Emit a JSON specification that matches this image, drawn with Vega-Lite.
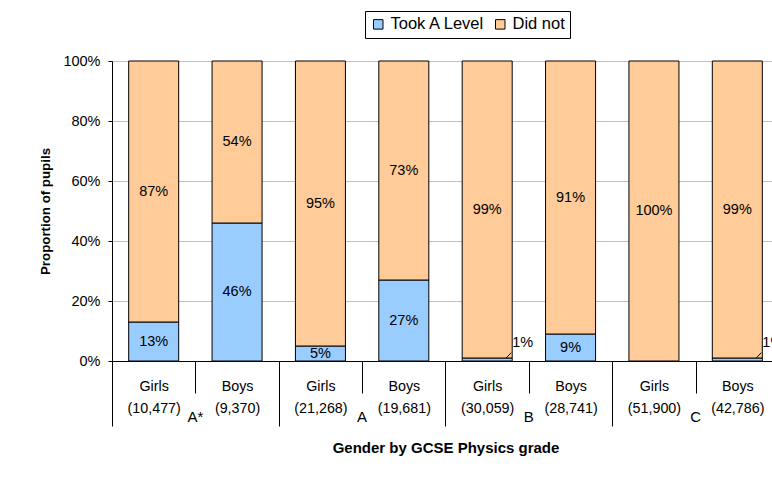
{
  "$schema": "https://vega.github.io/schema/vega-lite/v6.json",
  "width": 667,
  "height": 300,
  "autosize": {"type": "none"},
  "padding": {"left": 112, "top": 61, "right": 0, "bottom": 116},
  "background": "white",
  "data": {
    "values": [
      {"bar": "A*|Girls|(10,477)", "status": "Took A Level", "ord": 0, "value": 0.13},
      {"bar": "A*|Girls|(10,477)", "status": "Did not", "ord": 1, "value": 0.87},
      {"bar": "A*|Boys|(9,370)", "status": "Took A Level", "ord": 0, "value": 0.46},
      {"bar": "A*|Boys|(9,370)", "status": "Did not", "ord": 1, "value": 0.54},
      {"bar": "A|Girls|(21,268)", "status": "Took A Level", "ord": 0, "value": 0.05},
      {"bar": "A|Girls|(21,268)", "status": "Did not", "ord": 1, "value": 0.95},
      {"bar": "A|Boys|(19,681)", "status": "Took A Level", "ord": 0, "value": 0.27},
      {"bar": "A|Boys|(19,681)", "status": "Did not", "ord": 1, "value": 0.73},
      {"bar": "B|Girls|(30,059)", "status": "Took A Level", "ord": 0, "value": 0.01},
      {"bar": "B|Girls|(30,059)", "status": "Did not", "ord": 1, "value": 0.99},
      {"bar": "B|Boys|(28,741)", "status": "Took A Level", "ord": 0, "value": 0.09},
      {"bar": "B|Boys|(28,741)", "status": "Did not", "ord": 1, "value": 0.91},
      {"bar": "C|Girls|(51,900)", "status": "Took A Level", "ord": 0, "value": 0.0},
      {"bar": "C|Girls|(51,900)", "status": "Did not", "ord": 1, "value": 1.0},
      {"bar": "C|Boys|(42,786)", "status": "Took A Level", "ord": 0, "value": 0.01},
      {"bar": "C|Boys|(42,786)", "status": "Did not", "ord": 1, "value": 0.99}
    ]
  },
  "layer": [
    {
      "mark": {"type": "bar", "stroke": "#000000", "strokeWidth": 1},
      "encoding": {
        "x": {
          "field": "bar", "type": "nominal", "sort": null,
          "scale": {"paddingInner": 0.4, "paddingOuter": 0.2},
          "axis": {
            "title": null, "orient": "bottom", "tickSize": 32, "tickOffset": -41.7, "labelOffset": 41.7,
            "labelExpr": "slice(split(datum.value, '|'), 1)",
            "labelPadding": -14, "labelLineHeight": 22, "labelAngle": 0,
            "domain": true, "labelFontSize": 14.3
          }
        },
        "y": {
          "field": "value", "type": "quantitative", "stack": "zero",
          "scale": {"domain": [0, 1]},
          "title": "Proportion of pupils",
          "axis": {"format": ".0%", "values": [0, 0.2, 0.4, 0.6, 0.8, 1], "domain": true, "ticks": true}
        },
        "color": {
          "field": "status", "type": "nominal",
          "scale": {"domain": ["Took A Level", "Did not"], "range": ["#99CCFF", "#FFCC99"]},
          "legend": {"title": null}
        },
        "order": {"field": "ord", "type": "quantitative"}
      }
    },
    {
      "transform": [
        {"stack": "value", "groupby": ["bar"], "sort": [{"field": "ord", "order": "ascending"}], "as": ["v0", "v1"]},
        {"calculate": "(datum.v0 + datum.v1) / 2", "as": "mid"},
        {"filter": "datum.value >= 0.05"}
      ],
      "mark": {"type": "text", "fontSize": 14.5, "color": "#000000", "baseline": "middle", "font": "Liberation Sans"},
      "encoding": {
        "x": {
          "field": "bar", "type": "nominal", "sort": null,
          "axis": {
            "title": null, "orient": "bottom",
            "values": ["A*|Girls|(10,477)", "A|Girls|(21,268)", "B|Girls|(30,059)", "C|Girls|(51,900)"],
            "tickOffset": -41.7, "tickSize": 65, "labels": false, "domain": false
          }
        },
        "y": {"field": "mid", "type": "quantitative", "title": "Proportion of pupils"},
        "text": {"field": "value", "type": "quantitative", "format": ".0%"}
      }
    },
    {
      "transform": [{"filter": "datum.status == 'Took A Level' && datum.value > 0 && datum.value < 0.02"}],
      "mark": {"type": "rule", "color": "#000000", "strokeWidth": 1, "xOffset": 19, "x2Offset": 24},
      "encoding": {
        "x": {"field": "bar", "type": "nominal", "sort": null, "axis": null},
        "x2": {"field": "bar"},
        "y": {"field": "value", "type": "quantitative", "title": "Proportion of pupils"},
        "y2": {"datum": 0.028}
      }
    },
    {
      "transform": [{"filter": "datum.status == 'Took A Level' && datum.value > 0 && datum.value < 0.02"}],
      "mark": {"type": "text", "fontSize": 14.5, "color": "#000000", "align": "left", "baseline": "middle", "dx": 25, "dy": -15, "font": "Liberation Sans"},
      "encoding": {
        "x": {
          "field": "bar", "type": "nominal", "sort": null,
          "axis": {
            "title": "Gender by GCSE Physics grade", "orient": "bottom",
            "values": ["A*|Boys|(9,370)", "A|Boys|(19,681)", "B|Boys|(28,741)", "C|Boys|(42,786)"],
            "ticks": false, "tickSize": 0, "domain": false, "labelOffset": -41.7,
            "labelExpr": "split(datum.value, '|')[0]",
            "labelPadding": 48, "labelFontSize": 15, "labelAngle": 0,
            "titleFontSize": 15, "titleFontWeight": "bold", "titlePadding": 16
          }
        },
        "y": {"field": "value", "type": "quantitative", "title": "Proportion of pupils"},
        "text": {"field": "value", "type": "quantitative", "format": ".0%"}
      }
    }
  ],
  "resolve": {"axis": {"x": "independent"}},
  "config": {
    "font": "Liberation Sans",
    "view": {"stroke": null},
    "axis": {
      "labelFont": "Liberation Sans", "titleFont": "Liberation Sans",
      "labelColor": "#000000", "titleColor": "#000000",
      "tickColor": "#000000", "domainColor": "#000000",
      "tickWidth": 1, "domainWidth": 1, "grid": false
    },
    "axisY": {
      "grid": true, "gridColor": "#c0c0c0", "gridWidth": 1,
      "domain": true, "ticks": true,
      "tickSize": 4, "labelPadding": 8, "labelFontSize": 14.5,
      "titleFontSize": 13.3, "titleFontWeight": "bold", "titlePadding": 10
    },
    "legend": {
      "orient": "none", "legendX": 253, "legendY": -50,
      "direction": "horizontal", "strokeColor": "#000000", "strokeWidth": 1,
      "padding": 5, "symbolType": "square", "symbolSize": 90,
      "symbolStrokeColor": "#000000", "symbolStrokeWidth": 1,
      "labelFontSize": 16.5, "labelFont": "Liberation Sans", "labelColor": "#000000",
      "labelOffset": 4, "columnPadding": 7
    }
  }
}
